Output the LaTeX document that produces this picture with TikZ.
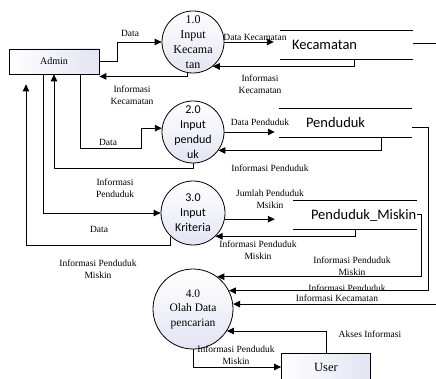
\documentclass[tikz,border=0pt]{standalone}
\usepackage{fontspec}
\setmainfont{Liberation Serif}
\newfontfamily\calibri{Carlito}
\usetikzlibrary{arrows.meta,positioning}

\definecolor{lavanda}{RGB}{228,228,243}

\tikzset{
  flujo/.style={line width=0.9pt,-{Triangle[length=7pt,width=6.5pt]}},
  etiqueta/.style={font=\fontsize{9.5}{12}\selectfont,align=center,inner sep=0pt},
  proceso/.style={circle,draw,line width=0.8pt,top color=white,bottom color=lavanda,
    align=center,inner sep=-14pt},
  entidad/.style={rectangle,draw,line width=0.8pt,left color=white,right color=lavanda},
  almacen/.style={inner xsep=0pt,inner ysep=0pt,minimum height=28pt,align=left,
    font=\calibri\fontsize{14.5}{16}\selectfont},
}

\begin{document}
\begin{tikzpicture}[x=1pt,y=-1pt]
  \clip (0,0) rectangle (436,379);

  % Entidades externas
  \node[entidad,minimum width=90pt,minimum height=25pt,font=\fontsize{10}{12}\selectfont]
    (admin) at (54,61.5) {Admin};
  \node[entidad,minimum width=89pt,minimum height=28pt,font=\fontsize{12.5}{14}\selectfont]
    (user) at (326,367) {User};

  % Procesos
  \node[proceso,minimum size=62pt,font=\fontsize{12}{15}\selectfont]
    (p1) at (193,42) {1.0\\Input\\Kecama\\tan};
  \node[proceso,minimum size=62pt,font=\calibri\fontsize{12}{15}\selectfont]
    (p2) at (193,132) {2.0\\Input\\pendud\\uk};
  \node[proceso,minimum size=64pt,font=\calibri\fontsize{12}{15}\selectfont]
    (p3) at (193,213) {3.0\\Input\\Kriteria};
  \node[proceso,minimum size=80pt,font=\fontsize{11.5}{14.5}\selectfont]
    (p4) at (193,309) {4.0\\Olah Data\\pencarian};

  % Almacenes de datos
  \node[almacen,text width=133pt] (kec) at (346.5,45) {\hspace*{12pt}Kecamatan};
  \node[almacen,text width=133pt] (pen) at (345.5,123) {\hspace*{27pt}Penduduk};
  \node[almacen,text width=124pt] (mis) at (355,215)
    {\hspace*{18pt}\mbox{Penduduk\_Miskin}};
  \foreach \s in {kec,pen,mis}
    \draw[line width=0.8pt] (\s.north west) -- (\s.north east)
                            (\s.south west) -- (\s.south east);

  % Admin y proceso 1.0
  \draw[flujo] (admin.east) -- ++(18,0) |- (p1.west);
  \draw[flujo] (p1.259) |- ([yshift=-2pt]admin.south east);
  \node[etiqueta] (t1) at (130,33) {Data};
  \node[etiqueta] (t2) at (132,95) {Informasi\\Kecamatan};

  % Proceso 1.0 y Kecamatan
  \draw[flujo] (p1.east) -- ([xshift=-6pt,yshift=3pt]kec.west);
  \draw[flujo] ([xshift=7.5pt]kec.south) |- (p1.-51);
  \node[etiqueta] (t3) at (255,37) {Data Kecamatan};
  \node[etiqueta] (t4) at (260,84) {Informasi\\Kecamatan};

  % Admin y proceso 2.0
  \draw[flujo] ([xshift=26pt]admin.south) -- ++(0,74) -- ++(61,0) |- (p2.173);
  \draw[flujo] (p2.south) -- ++(0,5) -| (admin.south);
  \node[etiqueta] (t5) at (108,142) {Data};
  \node[etiqueta] (t6) at (115,188) {Informasi\\Penduduk};

  % Proceso 2.0 y Penduduk
  \draw[flujo,shorten >=4pt] (p2.east) -- (p2.east -| pen.west);
  \draw[flujo] ([xshift=35.5pt]pen.south) |- (p2.-36);
  \node[etiqueta] (t7) at (260,122) {Data Penduduk};
  \node[etiqueta] (t8) at (270,168) {Informasi Penduduk};

  % Admin y proceso 3.0
  \draw[flujo] ([xshift=-11pt]admin.south) |- (p3.west);
  \draw[flujo] (p3.227) -- ++(0,9) -| ([xshift=-28pt,yshift=-10pt]admin.south);
  \node[etiqueta] (t9) at (99,229) {Data};
  \node[etiqueta] (t10) at (98,269) {Informasi Penduduk\\Miskin};

  % Proceso 3.0 y Penduduk_Miskin
  \draw[flujo,shorten >=18pt] (p3.-11) -- (p3.-11 -| mis.west);
  \draw[flujo] (mis.south) |- (p3.-46);
  \node[etiqueta] (t11) at (270,199) {Jumlah Penduduk\\Msikin};
  \node[etiqueta] (t12) at (258,250) {Informasi Penduduk\\Miskin};

  % Almacenes hacia proceso 4.0
  \draw[flujo] ([yshift=1pt]mis.east) -- ++(4,0) |- (p4.53);
  \draw[flujo] ([yshift=-4pt]pen.east) -- ++(16,0) |- (p4.27);
  \draw[flujo] ([yshift=2pt]kec.east) -- ++(30,0) |- (p4.7);
  \node[etiqueta] (t13) at (352,266) {Informasi Penduduk\\Miskin};
  \node[etiqueta] (t14) at (347,288) {Informasi Penduduk};
  \node[etiqueta] (t15) at (337,298) {Informasi Kecamatan};

  % User y proceso 4.0
  \draw[flujo] (user.north) |- (p4.-33);
  \draw[flujo] (p4.south) |- (user.west);
  \node[etiqueta] (t16) at (370,334) {Akses Informasi};
  \node[etiqueta] (t17) at (236,355) {Informasi Penduduk\\Miskin};
\end{tikzpicture}
\end{document}
